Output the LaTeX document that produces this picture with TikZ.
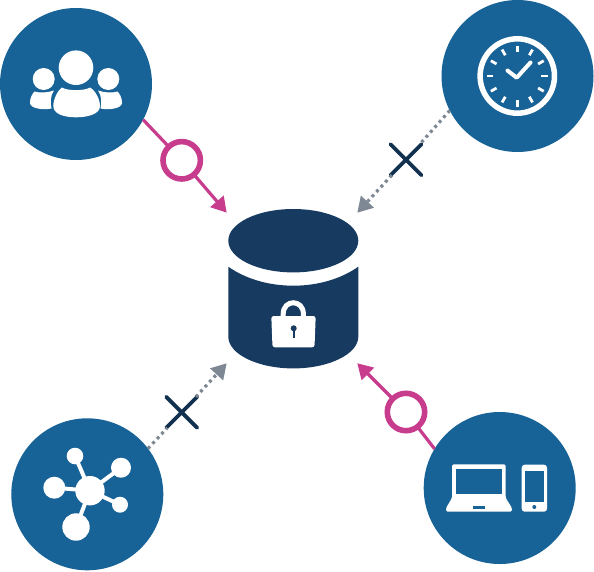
\documentclass[tikz,border=0pt]{standalone}
\usetikzlibrary{arrows.meta,shapes.misc}
\definecolor{hubblue}{HTML}{176296}
\definecolor{navy}{HTML}{173A60}
\definecolor{crossnavy}{HTML}{12304F}
\definecolor{plum}{HTML}{C73C8C}
\definecolor{slate}{HTML}{7E8794}
\tikzset{
  hub/.style={circle,fill=hubblue,minimum size=152pt,inner sep=0pt,outer sep=0pt},
  ringmark/.style={circle,draw=plum,fill=white,line width=5.6pt,minimum size=37.4pt,inner sep=0pt,outer sep=0pt},
  xmark/.style={cross out,draw=crossnavy,line width=3.8pt,line cap=round,minimum size=31pt,inner sep=0pt,outer sep=0pt},
  okline/.style={draw=plum,line width=3.2pt},
  blockline/.style={draw=slate,line width=3.2pt,dash pattern=on 3pt off 3.6pt},
  okhead/.style={-{Triangle[length=15pt,width=17pt,fill=plum]}},
  blockhead/.style={-{Triangle[length=15pt,width=17pt,fill=slate]}},
  ink/.style={fill=white,draw=none}
}
\begin{document}
\begin{tikzpicture}[x=1pt,y=-1pt]
\useasboundingbox (0,0) rectangle (594,571);
% tips
\coordinate (tipTL) at (226.7,212.7);
\coordinate (tipTR) at (357.3,212.7);
\coordinate (tipBL) at (226.7,363.3);
\coordinate (tipBR) at (357.3,363.3);
% hubs
\node[hub] (people) at (76,84) {};
\node[hub] (clock) at (517.5,76) {};
\node[hub] (net) at (87.3,494.3) {};
\node[hub] (dev) at (499.7,488) {};
% connectors
\node[ringmark] (r1) at (181.7,160.3) {};
\node[ringmark] (r2) at (406,412) {};
\draw[okline] (people.-28) -- (r1);
\draw[okline,okhead] (r1) -- (tipTL);
\draw[okline] (dev.149) -- (r2);
\draw[okline,okhead] (r2) -- (tipBR);
\node[xmark] (x1) at (406,159.7) {};
\node[xmark] (x2) at (181.7,412.3) {};
\draw[blockline] (clock.207) -- (x1);
\draw[blockline,blockhead] (x1) -- (tipTR);
\draw[blockline] (net.37) -- (x2);
\draw[blockline,blockhead] (x2) -- (tipBL);
% database
\fill[navy] (293.3,240.7) ellipse [x radius=65, y radius=31.7];
\fill[navy] (228.3,266.7) .. controls (245,278.5) and (268,285.7) .. (293.3,285.7)
  .. controls (318.6,285.7) and (341.6,278.5) .. (358.3,266.7)
  -- (358.3,336.7) .. controls (358.3,354) and (329,368.4) .. (293.3,368.4)
  .. controls (257.6,368.4) and (228.3,354) .. (228.3,336.7) -- cycle;
% lock
\draw[white,line width=5pt] (283.2,318) -- (283.2,314) .. controls (283.2,299) and (303.4,299) .. (303.4,314) -- (303.4,318);
\fill[white,rounded corners=2.5pt] (271.3,316) -- (315.7,316) -- (314.5,347.3) -- (272.5,347.3) -- cycle;
\fill[navy] (293.7,328.3) circle (3);
\fill[navy] (292.5,329) rectangle (294.9,337.7);
% people icon
\fill[ink] (76,67.7) circle (17.3);
\fill[ink] (43.7,79) circle (11);
\fill[ink] (108.3,79) circle (11);
\fill[ink] (62,87.5) .. controls (67,91) and (85,91) .. (90,87.5)
  .. controls (96,91) and (100,100) .. (100,106)
  .. controls (100,114) and (88,117.3) .. (76,117.3)
  .. controls (64,117.3) and (53.3,114) .. (53.3,106)
  .. controls (53.3,100) and (57,91) .. (62,87.5) -- cycle;
\fill[ink] (34.5,91.5) .. controls (39,93) and (47,93) .. (54,90.5)
  .. controls (50,96) and (50.5,103) .. (51.5,108.5)
  .. controls (42,110.5) and (30,108) .. (30,103)
  .. controls (30,98) and (32,94) .. (34.5,91.5) -- cycle;
\fill[ink] (117.5,91.5) .. controls (113,93) and (105,93) .. (98,90.5)
  .. controls (102,96) and (101.5,103) .. (100.5,108.5)
  .. controls (110,110.5) and (122,108) .. (122,103)
  .. controls (122,98) and (120,94) .. (117.5,91.5) -- cycle;
% clock icon
\coordinate (cc) at (517.3,76);
\draw[white,line width=5.5pt] (cc) circle (37.2);
\foreach \a in {0,30,...,330}{
  \draw[white,line width=2.8pt] (cc) ++(\a:24) -- ++(\a:6.5);
}
\draw[white,line width=4pt,line cap=round,line join=round] (507.5,70.5) -- (516.7,77.7) -- (530.5,62.5);
% network icon
\coordinate (nc) at (90,490.7);
\foreach \px/\py/\rr in {75/456/8.3,121/467.7/10,54.3/487.7/11,120/504.7/8,76/527/13.7}{
  \draw[white,line width=4pt] (nc) -- (\px,\py);
  \fill[ink] (\px,\py) circle (\rr);
}
\fill[ink] (nc) circle (14.7);
% laptop
\fill[ink,rounded corners=1.5pt] (452,464.3) -- (505.7,464.3) -- (505.7,498) -- (512,508) -- (512,511.7) -- (446,511.7) -- (446,508) -- (452,498) -- cycle;
\fill[hubblue] (456,468.7) rectangle (502,494);
\fill[hubblue] (472.7,505.7) rectangle (485,508.7);
% phone
\fill[ink,rounded corners=3pt] (521.7,464.7) rectangle (547,511.7);
\fill[hubblue] (525,471.3) rectangle (544.3,502);
\fill[hubblue] (534.3,507) circle (2);
\end{tikzpicture}
\end{document}
